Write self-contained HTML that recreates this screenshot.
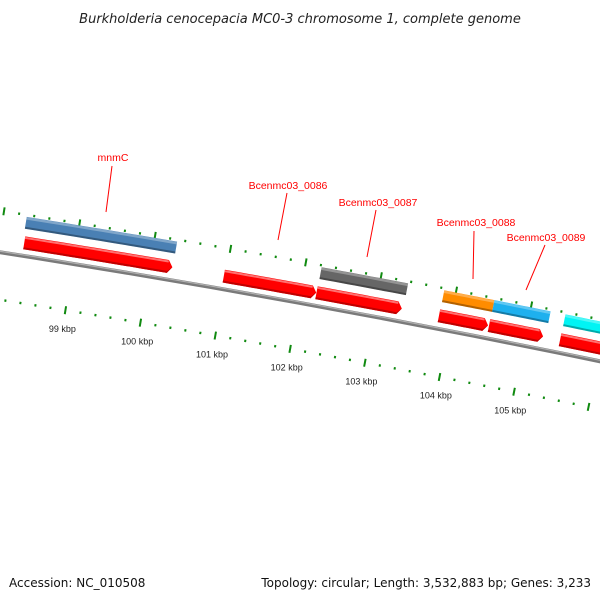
<!DOCTYPE html>
<html><head><meta charset="utf-8">
<style>
html,body{margin:0;padding:0;background:#fff;}
svg{display:block;font-family:"Liberation Sans","DejaVu Sans",sans-serif;}
</style></head>
<body>
<svg id="map" width="600" height="600" viewBox="0 0 600 600">
<text x="300" y="23" text-anchor="middle" font-size="13" font-style="italic" fill="#222" font-family="DejaVu Sans, sans-serif">Burkholderia cenocepacia MC0-3 chromosome 1, complete genome</text>
<text x="9" y="587" font-size="12" fill="#111" font-family="DejaVu Sans, sans-serif">Accession: NC_010508</text>
<text x="591" y="587" text-anchor="end" font-size="12" fill="#111" font-family="DejaVu Sans, sans-serif">Topology: circular; Length: 3,532,883 bp; Genes: 3,233</text>
<g id="rings"></g>
<g id="feats"></g>
<g id="labels"></g>
</svg>
<script>
// data
const fwdStarts=[98326,100975,102208,103840,104508,105457];
const fwdEnds=[100292,102205,103345,104495,105230,106300];
const geneStarts=[98305,102214,103845,104513,105460];
const geneEnds=[100297,103364,104513,105262,106300];
const geneColors=['#4a80b4','#666666','#ff8c00','#1eb0ee','#00f4f4'];
const tickLabels=[99,100,101,102,103,104,105];
const labelNames=['mnmC','Bcenmc03_0086','Bcenmc03_0087','Bcenmc03_0088','Bcenmc03_0089'];
const labelPos=[[113,161],[288,189],[378,206],[476,226],[546,241]];
const labelLines=[[112,166,106,212],[287,193,278,240],[376,210,367,257],[474,231,473,279],[545,245,526,290]];

const NS='http://www.w3.org/2000/svg';
const CX=-1935, CY=12601.5, R=12500;
const A0=10.293*Math.PI/180, K=6.103e-6, B0=102000;
function ang(bp){return A0+(bp-B0)*K;}
function pt(bp,r){const a=ang(bp);return [CX+r*Math.sin(a),CY-r*Math.cos(a)];}
function mk(tag,attrs,parent){const e=document.createElementNS(NS,tag);for(const k in attrs)e.setAttribute(k,attrs[k]);parent.appendChild(e);return e;}
function arcPts(b1,b2,r){const p=[];const n=12;for(let i=0;i<=n;i++)p.push(pt(b1+(b2-b1)*i/n,r));return p;}
function fmt(p){return p.map(q=>q[0].toFixed(2)+','+q[1].toFixed(2)).join(' ');}
const rings=document.getElementById('rings'), feats=document.getElementById('feats'), labs=document.getElementById('labels');

// backbone
const bb=mk('polyline',{points:fmt(arcPts(95000,109000,R)),fill:'none',stroke:'#7a7a7a','stroke-width':4},rings);


const bb2=mk('polyline',{points:fmt(arcPts(95000,109000,R+1)),fill:'none',stroke:'#b0b0b0','stroke-width':1.2},rings);



// ticks
for(let bp=95000;bp<=108000;bp+=200){
  const major=bp%1000===0;
  const ro=R+41, ri=R-47;
  const l1=major?4:1.2;
  const o=mk('line',{},rings);
  const p1=pt(bp,ro-l1),p2=pt(bp,ro+l1);
  o.setAttribute('x1',p1[0]);o.setAttribute('y1',p1[1]);o.setAttribute('x2',p2[0]);o.setAttribute('y2',p2[1]);
  o.setAttribute('stroke','#108a10');o.setAttribute('stroke-width',2);
  
  
  const i=mk('line',{},rings);
  const q1=pt(bp,ri-l1),q2=pt(bp,ri+l1);
  i.setAttribute('x1',q1[0]);i.setAttribute('y1',q1[1]);i.setAttribute('x2',q2[0]);i.setAttribute('y2',q2[1]);
  i.setAttribute('stroke','#108a10');i.setAttribute('stroke-width',2);
  
  
}
tickLabels.forEach(k=>{
  const p=pt(k*1000,R-66);
  const t=mk('text',{x:p[0].toFixed(1),y:(p[1]+3).toFixed(1),'text-anchor':'middle','font-size':9,fill:'#222'},rings);
  t.textContent=k+' kbp';
  
  
});

// forward CDS arrows (red)
fwdStarts.forEach((s,i)=>{
  const e=fwdEnds[i], r=R+13, h=6.5, tip=60;
  const top=arcPts(s,e-tip,r+h), bot=arcPts(s,e-tip,r-h).reverse();
  const poly=top.concat([pt(e,r)]).concat(bot);
  const g=mk('g',{},feats);
  
  
  mk('polygon',{points:fmt(poly),fill:'#ff0000'},g);
  const dk=arcPts(s,e-tip,r-h+2).concat([pt(e,r)]).concat(arcPts(s,e-tip,r-h).reverse());
  mk('polygon',{points:fmt(dk),fill:'#c00000'},g);
  mk('polyline',{points:fmt(arcPts(s,e-tip,r+h-1.5)),fill:'none',stroke:'#ff7070','stroke-width':2},g);
});

// gene bars
geneStarts.forEach((s,i)=>{
  const e=geneEnds[i], r=R+33, h=6;
  const poly=arcPts(s,e,r+h).concat(arcPts(s,e,r-h).reverse());
  const g=mk('g',{},feats);
  
  
  mk('polygon',{points:fmt(poly),fill:geneColors[i]},g);
  mk('polyline',{points:fmt(arcPts(s,e,r+h-1.5)),fill:'none',stroke:'#ffffff','stroke-opacity':0.3,'stroke-width':2.5},g);
  mk('polyline',{points:fmt(arcPts(s,e,r-h+1)),fill:'none',stroke:'#000','stroke-opacity':0.3,'stroke-width':2},g);
});

// labels
labelNames.forEach((n,i)=>{
  const l=labelLines[i];
  const ln=mk('line',{x1:l[0],y1:l[1],x2:l[2],y2:l[3],stroke:'#ff0000','stroke-width':1},labs);
  
  
  const t=mk('text',{x:labelPos[i][0],y:labelPos[i][1],'text-anchor':'middle','font-size':10.5,fill:'#ff0000'},labs);
  t.textContent=n;
  
  
});
</script>
</body></html>
